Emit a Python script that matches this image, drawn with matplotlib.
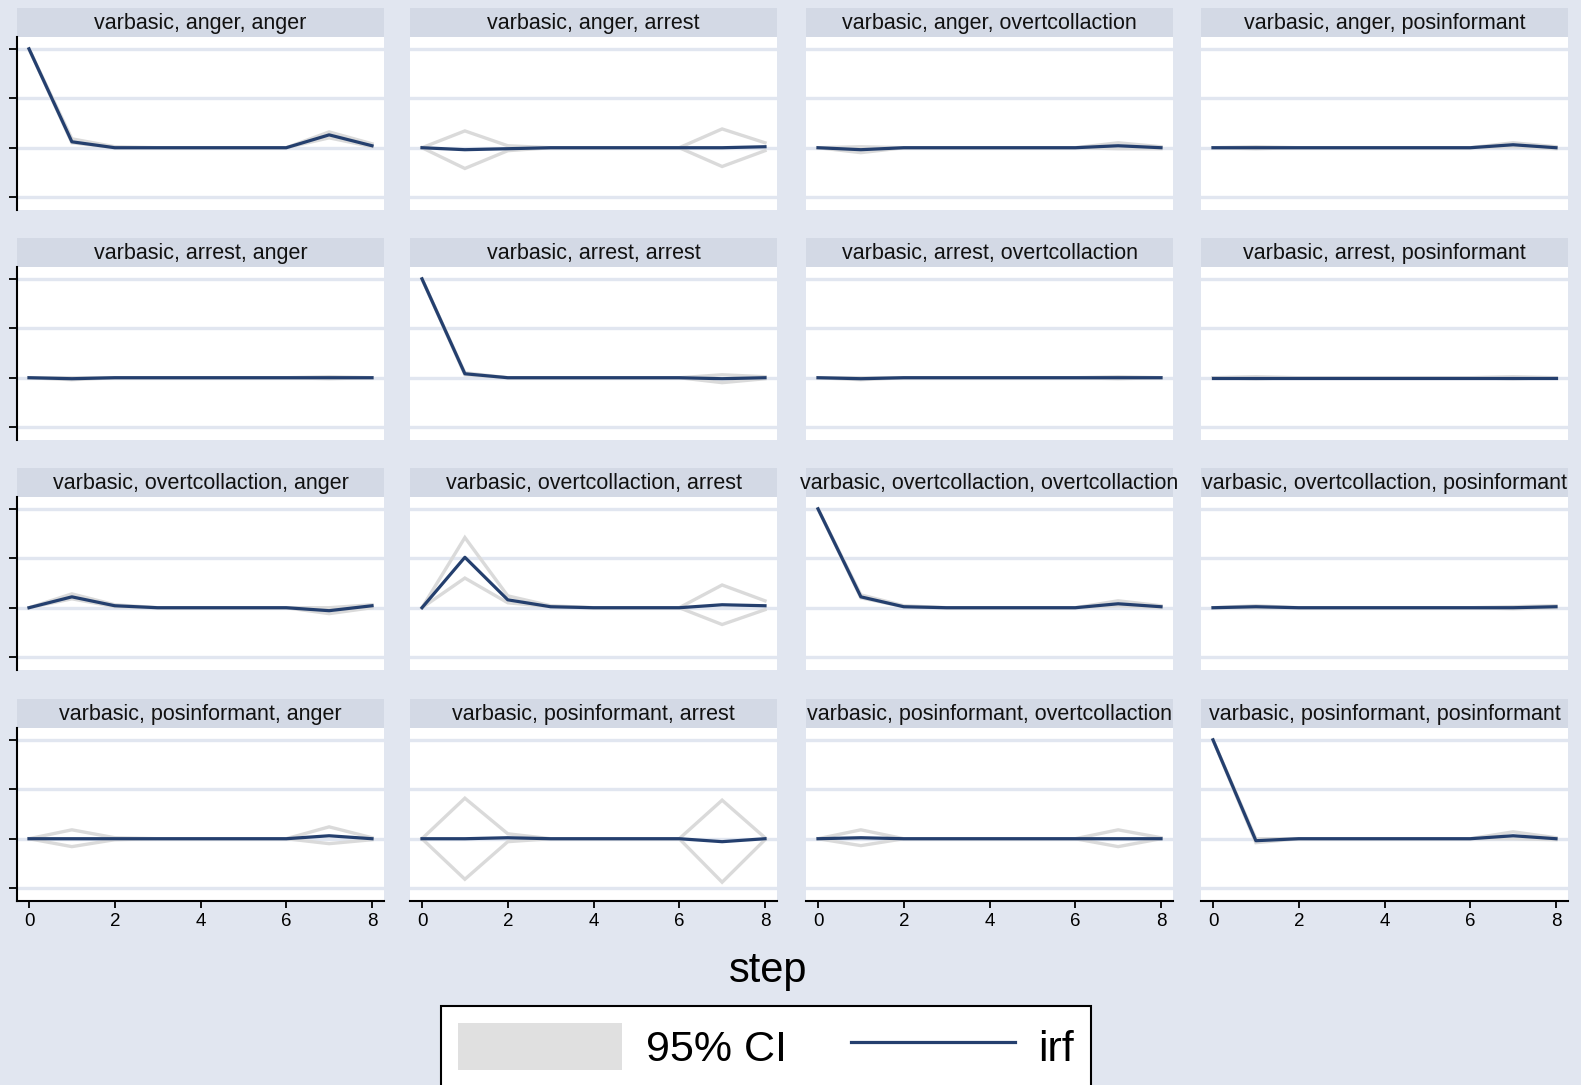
import numpy as np
import matplotlib
matplotlib.use("Agg")
import matplotlib.pyplot as plt
from matplotlib.patches import Patch
from matplotlib.lines import Line2D

plt.rcParams["font.family"] = ["Liberation Sans", "DejaVu Sans"]

steps = [0, 1, 2, 3, 4, 5, 6, 7, 8]
variables = ["anger", "arrest", "overtcollaction", "posinformant"]
y_ticks = [-0.5, 0, 0.5, 1]
x_ticks = [0, 2, 4, 6, 8]

# rows = impulse, one list per response (anger, arrest, overtcollaction, posinformant)
irf_anger = [
    [1, 0.06, 0, 0, 0, 0, 0, 0.13, 0.02],
    [0, -0.02, -0.01, 0, 0, 0, 0, 0, 0.01],
    [0, -0.02, 0, 0, 0, 0, 0, 0.02, 0],
    [0, 0, 0, 0, 0, 0, 0, 0.03, 0],
]
lo_anger = [
    [1, 0.05, 0, 0, 0, 0, 0, 0.10, 0.01],
    [0, -0.21, -0.03, 0, 0, 0, 0, -0.19, -0.03],
    [0, -0.05, 0, 0, 0, 0, 0, -0.01, -0.01],
    [0, -0.01, 0, 0, 0, 0, 0, 0.01, -0.01],
]
hi_anger = [
    [1, 0.09, 0.01, 0, 0, 0, 0, 0.16, 0.04],
    [0, 0.17, 0.02, 0, 0, 0, 0, 0.19, 0.05],
    [0, 0.01, 0, 0, 0, 0, 0, 0.05, 0.01],
    [0, 0.01, 0, 0, 0, 0, 0, 0.05, 0.01],
]

irf_arrest = [
    [0, -0.01, 0, 0, 0, 0, 0, 0, 0],
    [1, 0.04, 0, 0, 0, 0, 0, -0.01, 0],
    [0, -0.01, 0, 0, 0, 0, 0, 0, 0],
    [0, 0, 0, 0, 0, 0, 0, 0, 0],
]
lo_arrest = [
    [0, -0.02, 0, 0, 0, 0, 0, -0.01, 0],
    [1, 0.03, 0, 0, 0, 0, 0, -0.05, -0.01],
    [0, -0.02, 0, 0, 0, 0, 0, -0.01, 0],
    [0, -0.01, 0, 0, 0, 0, 0, -0.01, 0],
]
hi_arrest = [
    [0, 0, 0, 0, 0, 0, 0, 0.01, 0],
    [1, 0.05, 0, 0, 0, 0, 0, 0.03, 0.01],
    [0, 0, 0, 0, 0, 0, 0, 0.01, 0],
    [0, 0.01, 0, 0, 0, 0, 0, 0.01, 0],
]

irf_overt = [
    [0, 0.11, 0.02, 0, 0, 0, 0, -0.03, 0.02],
    [0, 0.51, 0.08, 0.01, 0, 0, 0, 0.03, 0.02],
    [1, 0.11, 0.01, 0, 0, 0, 0, 0.04, 0.01],
    [0, 0.01, 0, 0, 0, 0, 0, 0, 0.01],
]
lo_overt = [
    [0, 0.09, 0.01, 0, 0, 0, 0, -0.06, 0.0],
    [0, 0.30, 0.05, 0.01, 0, 0, 0, -0.17, -0.02],
    [1, 0.10, 0.01, 0, 0, 0, 0, 0.02, 0.0],
    [0, 0.0, 0, 0, 0, 0, 0, -0.01, 0.0],
]
hi_overt = [
    [0, 0.14, 0.03, 0, 0, 0, 0, 0.0, 0.03],
    [0, 0.71, 0.12, 0.02, 0, 0, 0, 0.23, 0.07],
    [1, 0.13, 0.02, 0, 0, 0, 0, 0.07, 0.02],
    [0, 0.02, 0, 0, 0, 0, 0, 0.01, 0.02],
]

irf_posinf = [
    [0, 0, 0, 0, 0, 0, 0, 0.03, 0],
    [0, 0, 0.01, 0, 0, 0, 0, -0.03, 0],
    [0, 0.01, 0, 0, 0, 0, 0, 0, 0],
    [1, -0.02, 0, 0, 0, 0, 0, 0.03, 0],
]
lo_posinf = [
    [0, -0.08, -0.01, 0, 0, 0, 0, -0.05, -0.01],
    [0, -0.41, -0.03, 0, 0, 0, 0, -0.44, -0.01],
    [0, -0.07, 0, 0, 0, 0, 0, -0.08, 0],
    [1, -0.04, 0, 0, 0, 0, 0, 0.0, -0.01],
]
hi_posinf = [
    [0, 0.09, 0.01, 0, 0, 0, 0, 0.12, 0.01],
    [0, 0.41, 0.05, 0, 0, 0, 0, 0.39, 0.01],
    [0, 0.09, 0, 0, 0, 0, 0, 0.09, 0.01],
    [1, 0.0, 0, 0, 0, 0, 0, 0.07, 0.01],
]

irf_all = [irf_anger, irf_arrest, irf_overt, irf_posinf]
lo_all = [lo_anger, lo_arrest, lo_overt, lo_posinf]
hi_all = [hi_anger, hi_arrest, hi_overt, hi_posinf]

BG = "#e1e6f0"
STRIP = "#d3d9e5"
NAVY = "#243f6e"
CI = "#dadada"

W, H = 1581, 1085
fig = plt.figure(figsize=(W / 100, H / 100), dpi=100, facecolor=BG)

col_left = [17, 410, 806, 1201]
col_w = 367
row_top = [8, 238, 468, 699]
strip_h = 29
plot_h = 173


def px_axes(x, y, w, h):
    return fig.add_axes([x / W, 1 - (y + h) / H, w / W, h / H])


for r in range(4):
    for c in range(4):
        x0 = col_left[c]
        y0 = row_top[r]
        # strip title
        sax = px_axes(x0, y0, col_w, strip_h)
        sax.set_facecolor(STRIP)
        sax.set_xticks([])
        sax.set_yticks([])
        for s in sax.spines.values():
            s.set_visible(False)
        sax.text(0.5, 0.45, f"varbasic, {variables[r]}, {variables[c]}",
                 ha="center", va="center", fontsize=15.5, color="#111111",
                 transform=sax.transAxes, clip_on=False)

        ax = px_axes(x0, y0 + strip_h, col_w, plot_h)
        ax.set_facecolor("white")
        ax.set_xlim(-0.28, 8.28)
        ax.set_ylim(-0.63, 1.12)
        for yv in y_ticks:
            ax.axhline(yv, color=BG, lw=2.4, zorder=1)
        ax.plot(steps, lo_all[r][c], color=CI, lw=2.4, zorder=2,
                solid_joinstyle="miter")
        ax.plot(steps, hi_all[r][c], color=CI, lw=2.4, zorder=2,
                solid_joinstyle="miter")
        ax.plot(steps, irf_all[r][c], color=NAVY, lw=2.3, zorder=3)

        for s in ax.spines.values():
            s.set_visible(False)
        ax.set_yticks(y_ticks)
        ax.set_xticks(x_ticks)
        if c == 0:
            ax.spines["left"].set_visible(True)
            ax.spines["left"].set_linewidth(1.5)
            ax.tick_params(axis="y", length=6, width=1.3, labelleft=False)
        else:
            ax.tick_params(axis="y", left=False, labelleft=False)
        if r == 3:
            ax.spines["bottom"].set_visible(True)
            ax.spines["bottom"].set_linewidth(1.5)
            ax.tick_params(axis="x", length=5, width=1.3, labelsize=13.5,
                           pad=4, colors="black")
        else:
            ax.tick_params(axis="x", bottom=False, labelbottom=False)

fig.text(768 / W, 1 - 982 / H, "step", ha="center", va="baseline",
         fontsize=30, color="black")

handles = [Patch(facecolor="#e0e0e0", edgecolor="none", label="95% CI"),
           Line2D([0], [0], color=NAVY, lw=2.3, label="irf")]
leg = fig.legend(handles=handles, loc="upper left",
                 bbox_to_anchor=(441 / W, 1 - 1006 / H), ncol=2,
                 fontsize=31, frameon=True, fancybox=False, framealpha=1,
                 edgecolor="black", facecolor="white", borderaxespad=0,
                 borderpad=0.4, handlelength=3.8, handleheight=1.3,
                 handletextpad=0.55, columnspacing=1.5)
leg.get_frame().set_linewidth(1.5)

fig.savefig("out.png", dpi=100, facecolor=BG)
